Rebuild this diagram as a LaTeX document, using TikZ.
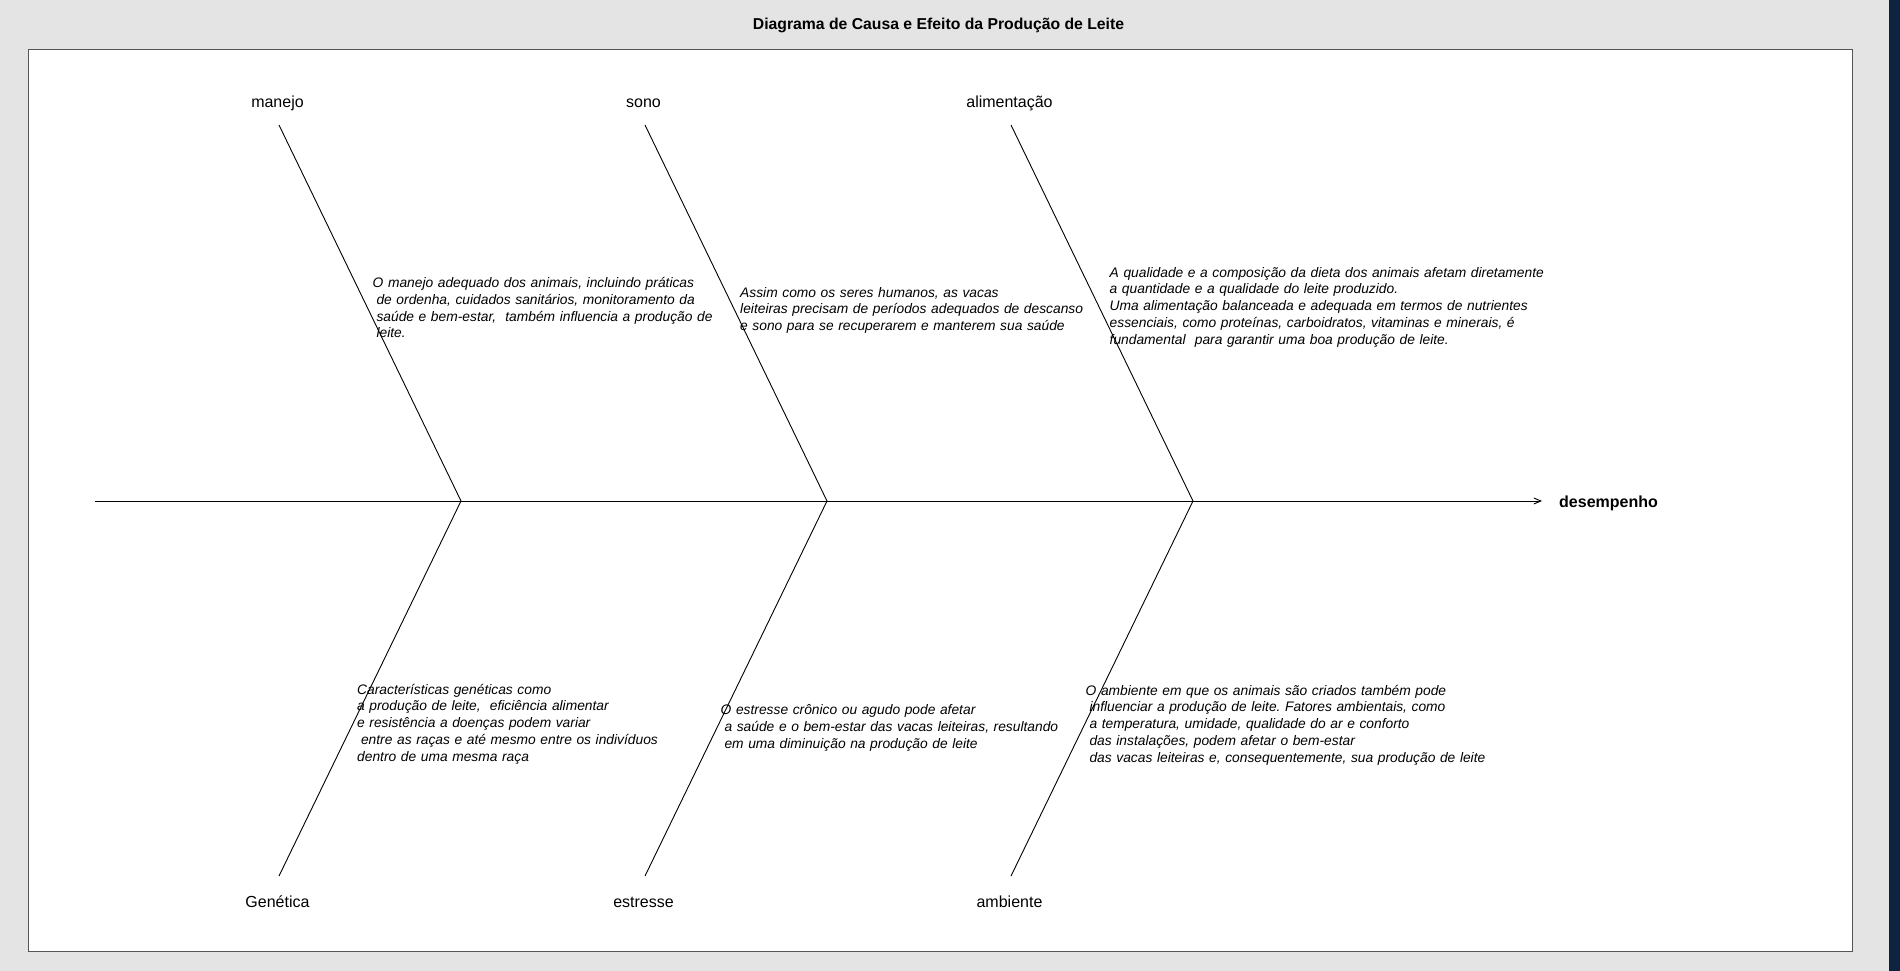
\documentclass[tikz,border=0pt]{standalone}
\usepackage{fontspec}
\setmainfont{Liberation Sans}
\usepackage{xcolor}
\usepackage{tikz}
\usetikzlibrary{positioning,arrows.meta}

\definecolor{bgGray}{RGB}{228,228,228}
\definecolor{frameGray}{RGB}{85,85,85}
\definecolor{barNavy}{RGB}{13,35,64}
\newcommand{\indsp}{\hspace*{0.278em}}
\frenchspacing

\tikzset{
  cause/.style={font=\fontsize{16}{19}\selectfont, inner sep=0pt},
  effect/.style={font=\fontsize{16}{19}\selectfont\bfseries, inner sep=0pt},
  note/.style={font=\fontsize{13.8}{16.8}\selectfont\itshape, align=left, text width=470pt, inner sep=0pt, anchor=base west},
  bone/.style={line width=0.9pt}
}

\begin{document}
\begin{tikzpicture}[x=1pt, y=-1pt]
\useasboundingbox (0,0) rectangle (1900,971);
% background and panel
\fill[bgGray] (0,0) rectangle (1900,971);
\fill[barNavy] (1889,0) rectangle (1900,971);
\filldraw[fill=white, draw=frameGray, line width=1pt] (28,50) rectangle (1852,951);

\node[font=\fontsize{15.75}{19}\selectfont\bfseries, inner sep=0pt, anchor=base] (title) at (938.5,29.5) {Diagrama de Causa e Efeito da Produção de Leite};

% spine
\coordinate (tail) at (94.5,501);
\coordinate (head) at (1542,501);
\draw[line width=0.9pt, -{Straight Barb[length=7pt,width=6pt]}] (tail) -- (head);
\node[effect, right=17pt of head, anchor=base west, yshift=-6pt] (desempenho) {desempenho};

% joints and bone ends
\coordinate (j1) at (461,501);
\coordinate (j2) at (827,501);
\coordinate (j3) at (1193,501);
\coordinate (t1) at (279,125);
\coordinate (t2) at (645,125);
\coordinate (t3) at (1011,125);
\coordinate (b1) at (279,876);
\coordinate (b2) at (645,876);
\coordinate (b3) at (1011,876);

% bones
\draw[bone] (t1) -- (j1);
\draw[bone] (t2) -- (j2);
\draw[bone] (t3) -- (j3);
\draw[bone] (b1) -- (j1);
\draw[bone] (b2) -- (j2);
\draw[bone] (b3) -- (j3);

% causes
\node[cause, above=17pt of t1, anchor=base, xshift=-1.5pt] (manejo) {manejo};
\node[cause, above=17pt of t2, anchor=base, xshift=-1.5pt] (sono) {sono};
\node[cause, above=17pt of t3, anchor=base, xshift=-1.5pt] (alimentacao) {alimentação};
\node[cause, below=31pt of b1, anchor=base, xshift=-1.5pt] (genetica) {Genética};
\node[cause, below=31pt of b2, anchor=base, xshift=-1.5pt] (estresse) {estresse};
\node[cause, below=31pt of b3, anchor=base, xshift=-1.5pt] (ambiente) {ambiente};

% notes
\node[note] (txtManejo) at (372.5,287.5) {O manejo adequado dos animais, incluindo práticas\\
\indsp de ordenha, cuidados sanitários, monitoramento da\\
\indsp saúde e bem-estar, \ também influencia a produção de\\
\indsp leite.};
\node[note] (txtSono) at (740,297) {Assim como os seres humanos, as vacas\\
leiteiras precisam de períodos adequados de descanso\\
e sono para se recuperarem e manterem sua saúde};
\node[note] (txtAlim) at (1109.5,277) {A qualidade e a composição da dieta dos animais afetam diretamente\\
a quantidade e a qualidade do leite produzido.\\
Uma alimentação balanceada e adequada em termos de nutrientes\\
essenciais, como proteínas, carboidratos, vitaminas e minerais, é\\
fundamental \ para garantir uma boa produção de leite.};
\node[note] (txtGenetica) at (357,694) {Características genéticas como\\
a produção de leite, \ eficiência alimentar\\
e resistência a doenças podem variar\\
\indsp entre as raças e até mesmo entre os indivíduos\\
dentro de uma mesma raça};
\node[note] (txtEstresse) at (720.5,714.5) {O estresse crônico ou agudo pode afetar\\
\indsp a saúde e o bem-estar das vacas leiteiras, resultando\\
\indsp em uma diminuição na produção de leite};
\node[note] (txtAmbiente) at (1085.5,695) {O ambiente em que os animais são criados também pode\\
\indsp influenciar a produção de leite. Fatores ambientais, como\\
\indsp a temperatura, umidade, qualidade do ar e conforto\\
\indsp das instalações, podem afetar o bem-estar\\
\indsp das vacas leiteiras e, consequentemente, sua produção de leite};

\end{tikzpicture}
\end{document}
